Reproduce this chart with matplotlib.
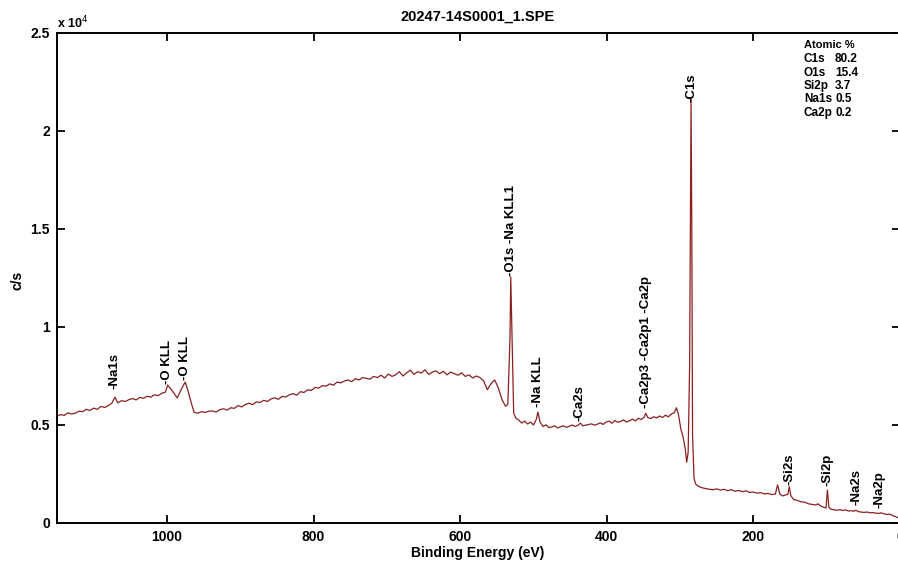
import matplotlib
matplotlib.use("Agg")
import matplotlib.pyplot as plt
import numpy as np

plt.rcParams['font.family'] = ['Liberation Sans', 'DejaVu Sans']

# survey spectrum: binding energy (eV) and counts (c/s)
energy = [1150, 1145, 1140, 1135, 1130, 1125, 1120, 1115, 1110, 1105, 1100, 1095, 1090, 1085, 1080, 1075,
          1071, 1067, 1062, 1057, 1052, 1047, 1042, 1037, 1032, 1027, 1022, 1017, 1012, 1007, 1002,
          999, 995, 990, 986, 982, 978, 975, 971, 967, 963, 958, 953, 948, 943, 938, 933, 928, 923,
          918, 913, 908, 903, 898, 893, 888, 883, 878, 873, 868, 863, 858, 853, 848, 843, 838, 833,
          828, 823, 818, 813, 808, 803, 798, 793, 788, 783, 778, 773, 768, 763, 758, 753, 748, 743,
          738, 733, 728, 723, 718, 713, 708, 703, 698, 693, 688, 683, 678, 673, 668, 663, 658, 653,
          648, 643, 638, 633, 628, 623, 618, 613, 608, 603, 598, 593, 588, 583, 578, 573, 568, 563,
          558, 553, 548, 543, 538, 535, 532, 531, 529, 527, 524, 520, 516, 512, 508, 504, 500, 496,
          494, 491, 487, 483, 479, 475, 471, 467, 463, 459, 455, 451, 447, 443, 439, 436, 433, 429,
          425, 421, 417, 413, 409, 405, 401, 397, 393, 389, 385, 381, 377, 373, 369, 365, 361, 357,
          353, 349, 347, 344, 340, 336, 332, 328, 324, 320, 316, 312, 308, 305, 302, 299, 296, 293,
          291, 289, 287, 285, 284, 283, 281, 279, 276, 272, 268, 264, 260, 255, 250, 245, 240, 235,
          230, 225, 220, 215, 210, 205, 200, 195, 190, 185, 180, 175, 170, 167, 164, 160, 157, 153,
          151, 149, 145, 140, 135, 130, 125, 120, 115, 112, 108, 104, 101, 99, 97, 94, 90, 86, 82,
          78, 74, 70, 66, 63, 60, 57, 53, 49, 45, 41, 37, 33, 29, 26, 22, 18, 14, 10, 6, 2]
counts = [5450, 5530, 5490, 5620, 5560, 5600, 5710, 5680, 5800, 5740, 5860, 5800, 5950, 5890, 5990, 6120,
          6420, 6130, 6240, 6200, 6290, 6350, 6280, 6410, 6360, 6470, 6420, 6540, 6500, 6620, 6680,
          7040, 6850, 6600, 6380, 6700, 7000, 7190, 6700, 6150, 5650, 5600, 5680, 5640, 5700, 5720, 5660, 5780, 5830,
          5760, 5880, 5850, 5990, 5920, 6050, 6110, 6040, 6180, 6150, 6260, 6200, 6330, 6390, 6310, 6460, 6430, 6540,
          6600, 6520, 6700, 6660, 6800, 6760, 6920, 6880, 7010, 6980, 7100, 7030, 7190, 7150, 7240, 7300, 7210, 7360,
          7300, 7420, 7380, 7340, 7480, 7420, 7540, 7400, 7600, 7480, 7560, 7720, 7500, 7660, 7800, 7580, 7720, 7650,
          7820, 7580, 7700, 7760, 7620, 7740, 7560, 7700, 7620, 7540, 7660, 7480, 7560, 7400, 7500, 7420, 7250, 6800,
          7100, 7300, 6900, 6300, 5950, 6050, 9500, 12550, 9000, 5600, 5350, 5250, 5100, 5200, 5050, 5150, 5000, 5300,
          5660, 5150, 4920, 5010, 4870, 4900, 4960, 4850, 4910, 4960, 4880, 4940, 5000, 4930, 4990, 5100, 4960, 4990,
          5020, 5060, 4990, 5040, 5110, 5030, 5150, 5200, 5090, 5230, 5140, 5180, 5260, 5150, 5220, 5300, 5210, 5340,
          5280, 5400, 5600, 5380, 5330, 5420, 5360, 5460, 5380, 5500, 5420, 5560, 5620, 5880, 5500, 4800, 4400, 3800,
          3100, 3600, 8000, 21600, 15000, 4500, 2300, 2000, 1900, 1820, 1780, 1750, 1720, 1700, 1740, 1680, 1720, 1650,
          1700, 1620, 1660, 1600, 1640, 1560, 1580, 1520, 1550, 1480, 1510, 1450, 1480, 1950, 1480, 1380, 1420, 1460,
          1850, 1400, 1200, 1150, 1080, 1060, 980, 950, 920, 980, 860, 800, 760, 1680, 800, 700, 680, 650, 680,
          640, 660, 610, 630, 600, 650, 580, 560, 540, 560, 520, 530, 500, 490, 520, 470, 440, 450, 380, 320, 260]
assert len(energy) == len(counts)

# peak labels: position (eV), height where the label starts (c/s)
peak_labels = ['-Na1s', '-O KLL', '-O KLL', '-O1s -Na KLL1', '-Na KLL', '-Ca2s',
               '-Ca2p3 -Ca2p1 -Ca2p', '-C1s', '-Si2s', '-Si2p', '-Na2s', '-Na2p']
peak_ev = [1071, 1000, 976, 531, 494, 437, 346, 284.5, 151, 99, 60, 28]
peak_y = [6850, 7100, 7300, 12600, 5900, 5200, 5850, 21500, 1950, 1900, 900, 750]

atomic_names = ['C1s', 'O1s', 'Si2p', 'Na1s', 'Ca2p']
atomic_pct = ['80.2', '15.4', '3.7', '0.5', '0.2']

W, H = 898, 567
fig = plt.figure(figsize=(W / 100, H / 100), dpi=100)
ax = fig.add_axes([57 / W, 44 / H, 843 / W, 490 / H])
ax.plot(energy, counts, color='#8b2020', lw=0.9)

ax.set_xlim(1150, 0)
ax.set_ylim(0, 25000)
ax.set_xticks([1000, 800, 600, 400, 200, 0])
ax.set_xticklabels(['1000', '800', '600', '400', '200', '0'])
ax.set_yticks([0, 5000, 10000, 15000, 20000, 25000])
ax.set_yticklabels(['0', '0.5', '1', '1.5', '2', '2.5'])
ax.tick_params(direction='in', length=6, width=1.3, top=True, right=True,
               labelsize=10, pad=5)
for lab in ax.get_xticklabels() + ax.get_yticklabels():
    lab.set_fontweight('bold')
for s in ax.spines.values():
    s.set_linewidth(1.4)

for txt, xe, ye in zip(peak_labels, peak_ev, peak_y):
    ax.text(xe, ye, txt, rotation=90, ha='center', va='bottom',
            fontsize=9.5, fontweight='bold')

# atomic % table
fig.text(804 / W, 1 - 45 / H, 'Atomic %', fontsize=8, fontweight='bold', va='center')
for i, (n, p) in enumerate(zip(atomic_names, atomic_pct)):
    ty = 1 - (59 + i * 13.5) / H
    fig.text(804 / W, ty, n, fontsize=8.5, fontweight='bold', va='center')
    fig.text(835 / W, ty, p, fontsize=8.5, fontweight='bold', va='center')

fig.text(478 / W, 1 - 17 / H, '20247-14S0001_1.SPE', ha='center', va='center',
         fontsize=10.5, fontweight='bold')
fig.text(57 / W, 1 - 28 / H, 'x 10$^4$', ha='left', va='baseline', fontsize=9,
         fontweight='bold')
fig.text(478 / W, 1 - 553 / H, 'Binding Energy (eV)', ha='center', va='center',
         fontsize=10, fontweight='bold')
fig.text(17 / W, 1 - 280 / H, 'c/s', rotation=90, ha='center', va='center',
         fontsize=10, fontweight='bold')

fig.savefig('out.png', dpi=100)
